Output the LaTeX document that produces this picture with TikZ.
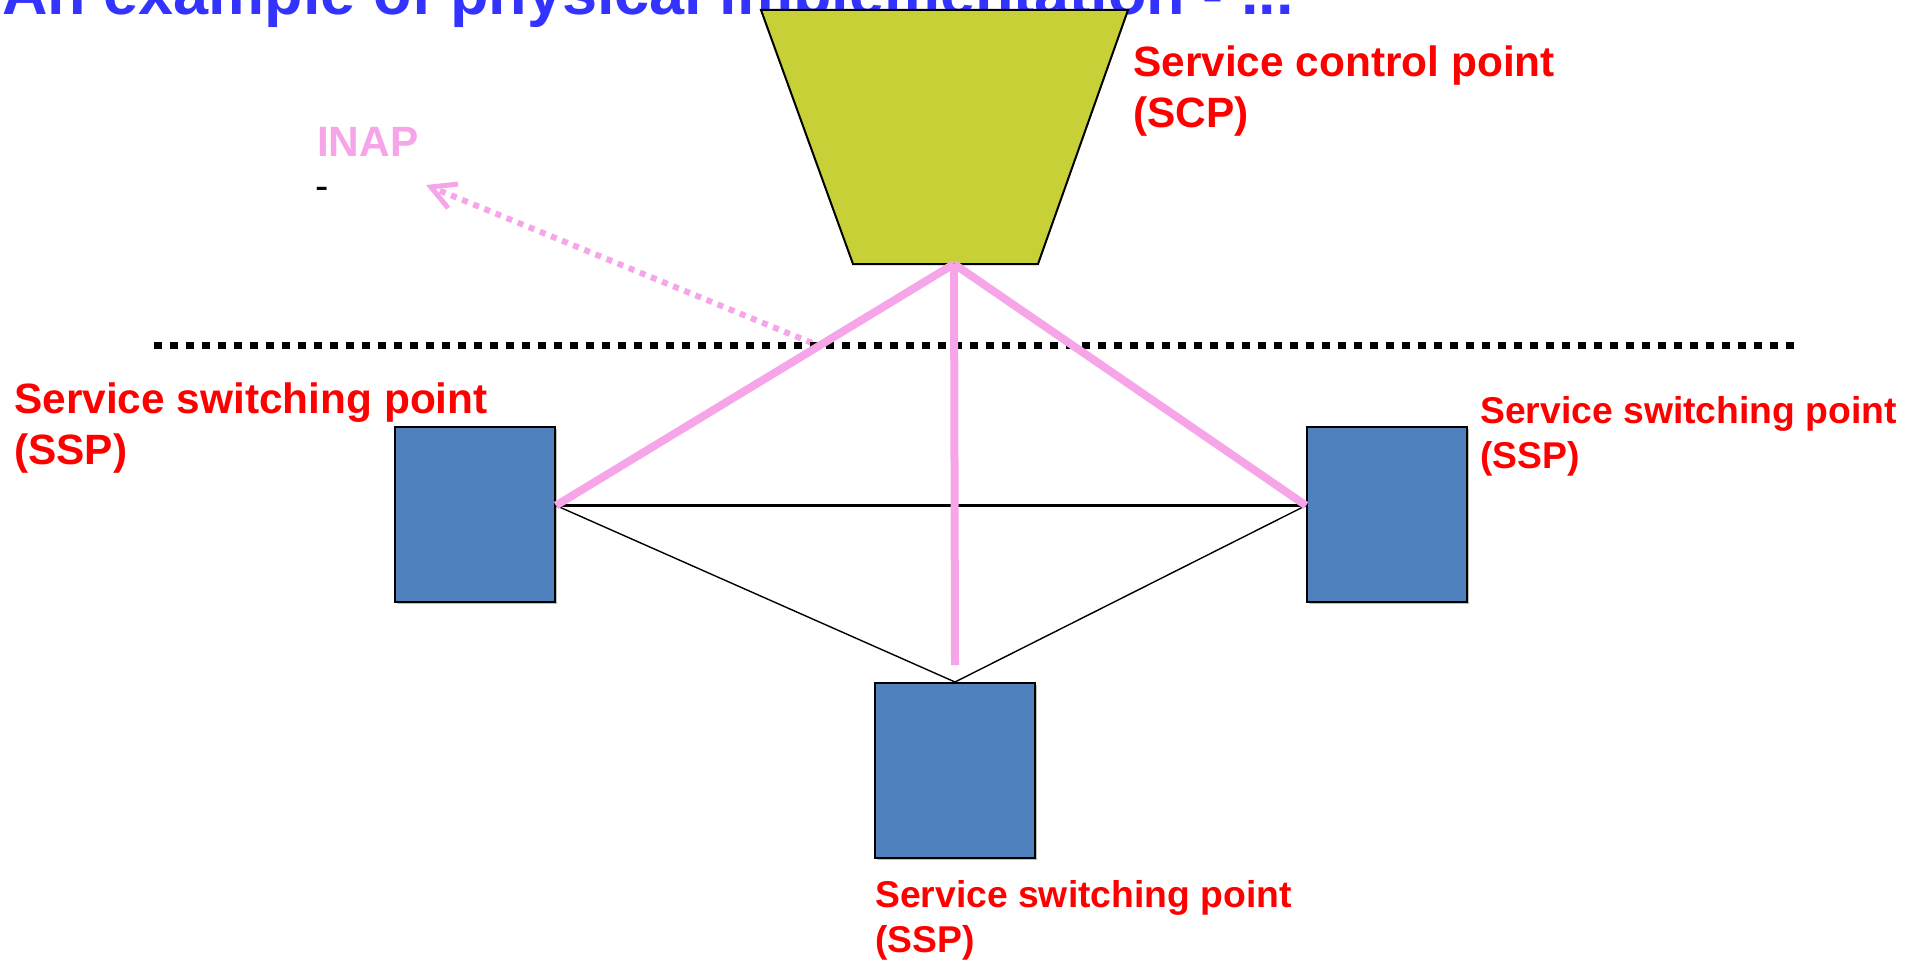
\documentclass[tikz,border=0pt]{standalone}
\usepackage{fontspec}
\setmainfont{Liberation Sans}
\usepackage{tikz}
\usetikzlibrary{arrows.meta, calc, shadows}
\definecolor{titleblue}{RGB}{51,51,255}
\definecolor{labelred}{RGB}{255,0,0}
\definecolor{inappink}{RGB}{246,166,232}
\definecolor{scpgreen}{RGB}{200,208,56}
\definecolor{sspblue}{RGB}{79,129,189}
\tikzset{
   myssp/.style={draw, line width=2pt, fill=sspblue, minimum width=160pt, minimum height=175pt, anchor=north west, inner sep=0pt,
      drop shadow={shadow xshift=2pt, shadow yshift=-2pt, fill=black!25, opacity=1}},
   myscp/.style={draw, line width=2pt, fill=scpgreen},
   mylabel/.style={text=labelred, font=\bfseries\fontsize{42.4}{51}\selectfont, align=left, anchor=base west, inner sep=0pt},
   mysmall/.style={mylabel, font=\bfseries\fontsize{37.3}{45}\selectfont},
   mypink/.style={draw=inappink, line width=8pt},
   mywire/.style={draw, line width=1.4pt},
   myinap/.style={draw=inappink, line width=6pt, dash pattern=on 6pt off 6pt, -{Straight Barb[length=24pt, width=26pt, line width=5pt]}}
}

\begin{document}
\begin{tikzpicture}[x=1pt, y=-1pt]
      \useasboundingbox (0,0) rectangle (1919,960);
      \clip (0,0) rectangle (1919,960);
      \node[anchor=base west, inner sep=0pt, text=titleblue, font=\bfseries\fontsize{63}{75}\selectfont] (title) at (2,15) {An example of physical implementation - ...};
      \draw[myscp] (761,10) -- (1128,10) -- (1038,264) -- (853,264) -- cycle;
      \coordinate (scp) at (954,264);
      \node[mylabel] (scplabel) at (1133,128) {Service control point\\(SCP)};
      \node[mylabel, text=inappink] (inap) at (317,157) {INAP};
      \node[anchor=base west, inner sep=0pt, font=\fontsize{40}{48}\selectfont] (inapdash) at (315,200) {-};
      \node[myssp] (sspL) at (394,426) {};
      \node[myssp] (sspR) at (1306,426) {};
      \node[myssp] (sspB) at (874,682) {};
      \node[mylabel] (sspLlabel) at (14,464) {Service switching point\\(SSP)};
      \node[mysmall] (sspRlabel) at (1480,468) {Service switching point\\(SSP)};
      \node[mysmall] (sspBlabel) at (875,952) {Service switching point\\(SSP)};
      \coordinate (portL) at ($(sspL.east)+(0,-9)$);
      \coordinate (portR) at ($(sspR.west)+(0,-9)$);
      \coordinate (pinkend) at ($(sspB.north)+(0,-17)$);
      \coordinate (inaptail) at (812,343);
      \coordinate (inaptip) at (426,185);
      \coordinate (sepL) at (154,345);
      \coordinate (sepR) at (1794,345);
      \draw[myinap] (inaptail) -- (inaptip);
      \draw[line width=7pt, dash pattern=on 8pt off 8pt] (sepL) -- (sepR);
      \draw[mywire, line width=2.6pt] (portL) -- (portR);
      \draw[mywire] (portL) -- (sspB.north);
      \draw[mywire] (portR) -- (sspB.north);
      \draw[mypink] (scp) -- (portL);
      \draw[mypink] (scp) -- (portR);
      \draw[mypink] (scp) -- (pinkend);
\end{tikzpicture}
\end{document}
